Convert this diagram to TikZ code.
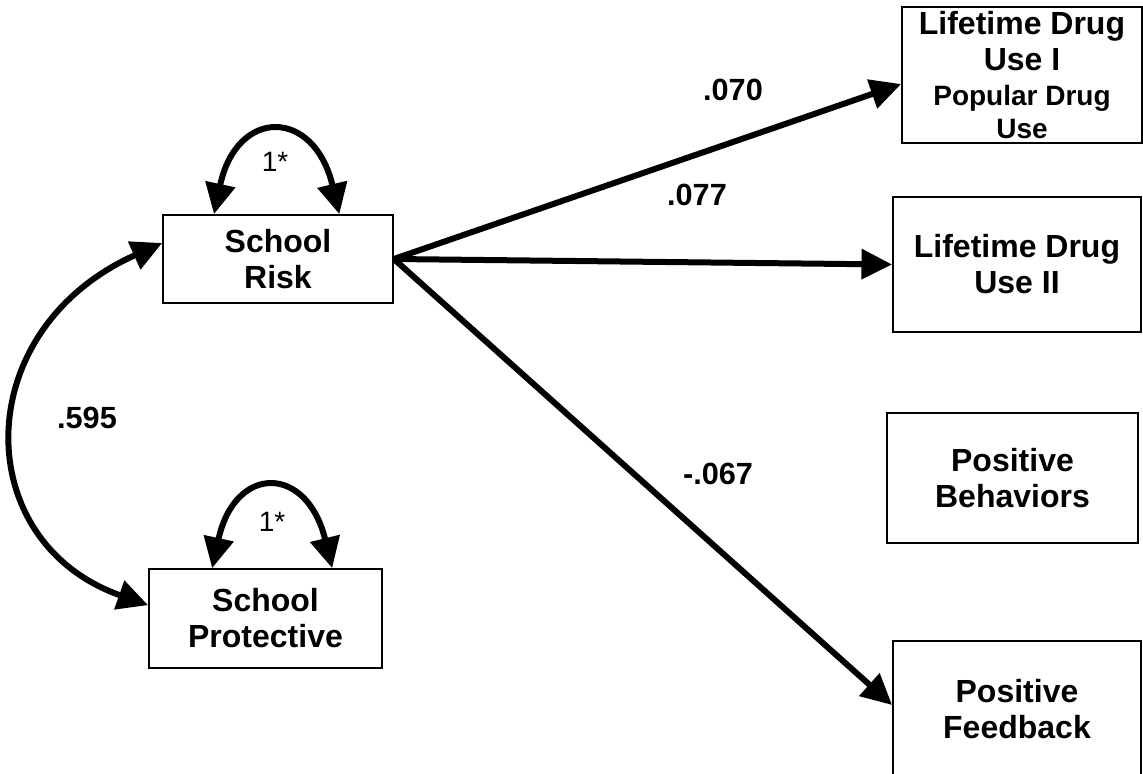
\documentclass[tikz,border=0pt]{standalone}
\usepackage{fontspec}
\setmainfont{Liberation Sans}
\usetikzlibrary{arrows.meta}
\begin{document}
\begin{tikzpicture}[x=0.75pt,y=-0.75pt,
  box/.style={draw=black,line width=1.3pt,inner sep=0pt,align=center,
    font=\fontsize{24}{27}\selectfont\bfseries},
  path/.style={line width=4.5pt,-{Triangle[length=23pt,width=22pt]}},
  cov/.style={line width=4.5pt,{Triangle[length=23pt,width=22pt]}-{Triangle[length=23pt,width=22pt]}},
  coef/.style={font=\fontsize{23}{27}\selectfont\bfseries},
  var/.style={font=\fontsize{21}{25}\selectfont}]
\useasboundingbox (0,0) rectangle (1143,774);
\clip (0,0) rectangle (1143,774);
\node[box,minimum width=172.5pt,minimum height=66pt] (risk) at (278,259) {School\\Risk};
\node[box,minimum width=174.75pt,minimum height=74.25pt] (prot) at (265.5,618.5) {School\\Protective};
\node[box,minimum width=180pt,minimum height=102pt] (d1) at (1022,75)
  {Lifetime Drug\\Use I\\[-1pt]{\fontsize{21}{24}\selectfont Popular Drug}\\[-2pt]{\fontsize{21}{24}\selectfont Use}};
\node[box,minimum width=186pt,minimum height=101.25pt] (d2) at (1017,264.5) {Lifetime Drug\\Use II};
\node[box,minimum width=188.25pt,minimum height=97.5pt] (beh) at (1012.5,478) {Positive\\Behaviors};
\node[box,minimum width=186pt,minimum height=102pt] (fb) at (1017,709) {Positive\\Feedback};

\draw[path] (risk.east) -- ([yshift=-6.75pt]d1.west);
\draw[path] (risk.east) -- (d2.west);
\draw[path] (risk.east) -- ([yshift=3pt]fb.west);

\draw[cov] ([xshift=-48pt]risk.north) .. controls +(17pt,80pt) and +(-19pt,80pt) .. ([xshift=46pt]risk.north);
\draw[cov] ([xshift=-40pt]prot.north) .. controls +(17pt,78pt) and +(-19pt,78pt) .. ([xshift=50pt]prot.north);
\draw[cov] ([yshift=12pt]risk.west) .. controls (-32,330) and (-31,542) .. ([yshift=10pt]prot.west);

\node[coef] (c1) at (733,90) {.070};
\node[coef] (c2) at (697,195) {.077};
\node[coef] (c3) at (718,474) {-.067};
\node[coef] (c4) at (87,418) {.595};
\node[var] (v1) at (275,162) {1*};
\node[var] (v2) at (272,522) {1*};
\end{tikzpicture}
\end{document}
